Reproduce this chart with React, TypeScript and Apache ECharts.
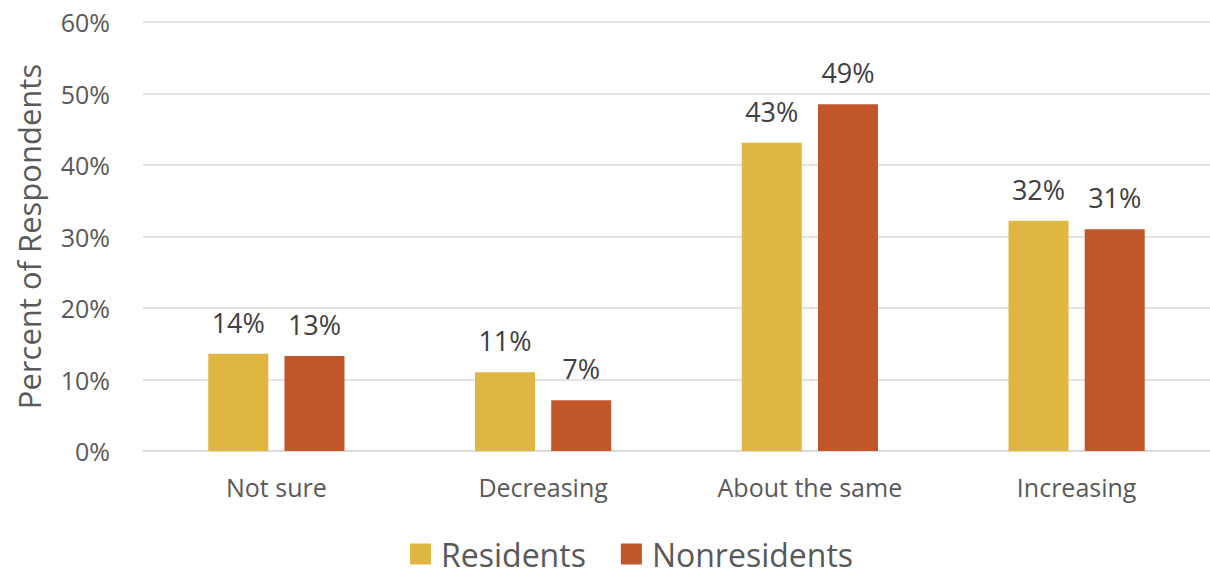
import React, { useEffect, useRef } from "react";
import * as echarts from "echarts";

const categories = ["Not sure", "Decreasing", "About the same", "Increasing"];
const residents = [13.6, 11.0, 43.1, 32.2];
const nonresidents = [13.3, 7.1, 48.5, 31.0];
const seriesNames = ["Residents", "Nonresidents"];
const colors = ["#E0B643", "#C0562A"];
const FONT = "'Open Sans', 'Noto Sans', sans-serif";

export default function App() {
  const ref = useRef<HTMLDivElement>(null);
  useEffect(() => {
    if (!ref.current) return;
    const chart = echarts.init(ref.current, undefined, { renderer: "svg" });
    const label = {
      show: true,
      position: "top",
      distance: 18,
      fontSize: 27,
      fontFamily: FONT,
      color: "#404040",
      formatter: (p: any) => Math.round(p.value) + "%",
    };
    chart.setOption({
      animation: false,
      textStyle: { fontFamily: FONT },
      grid: { left: 143, right: 0, top: 22, bottom: 122, containLabel: false },
      legend: {
        left: 410,
        top: 538,
        padding: 0,
        itemWidth: 21,
        itemHeight: 21,
        itemGap: 35,
        icon: "rect",
        textStyle: { fontSize: 32, lineHeight: 32, color: "#595959", fontFamily: FONT, padding: [0, 0, 0, 5] },
        data: seriesNames,
      },
      xAxis: {
        type: "category",
        data: categories,
        axisLine: { show: true, lineStyle: { color: "#d9d9d9", width: 1.5 } },
        axisTick: { show: false },
        axisLabel: { fontSize: 25, color: "#595959", margin: 23, fontFamily: FONT },
      },
      yAxis: {
        type: "value",
        min: 0,
        max: 60,
        interval: 10,
        name: "Percent of Respondents",
        nameLocation: "middle",
        nameGap: 99,
        nameTextStyle: { fontSize: 31, color: "#595959", fontFamily: FONT },
        axisLine: { show: false },
        axisTick: { show: false },
        axisLabel: { fontSize: 25, color: "#595959", margin: 33, formatter: "{value}%", fontFamily: FONT },
        splitLine: { lineStyle: { color: "#d9d9d9", width: 1.5 } },
      },
      series: [
        {
          name: seriesNames[0],
          type: "bar",
          data: residents,
          barWidth: 60,
          barGap: "27%",
          itemStyle: { color: colors[0] },
          label,
        },
        {
          name: seriesNames[1],
          type: "bar",
          data: nonresidents,
          barWidth: 60,
          barGap: "27%",
          itemStyle: { color: colors[1] },
          label,
        },
      ],
    });
    return () => chart.dispose();
  }, []);
  return (
    <div
      ref={ref}
      style={{ position: "absolute", left: 0, top: 0, width: 1210, height: 573, background: "#fff" }}
    />
  );
}
